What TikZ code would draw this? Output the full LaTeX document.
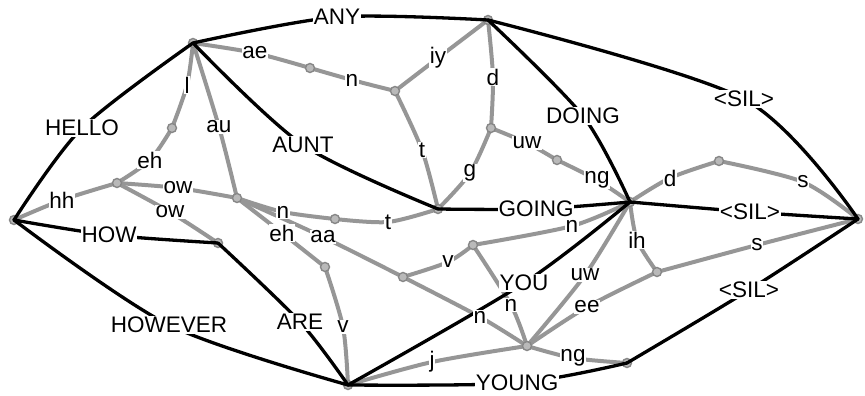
\documentclass[tikz,border=0pt]{standalone}
\usepackage{fontspec}
\setmainfont{Liberation Sans}
\definecolor{phg}{RGB}{150,150,150}
\definecolor{ring}{RGB}{135,135,135}
\definecolor{vfill}{RGB}{185,185,185}
\begin{document}
\begin{tikzpicture}[x=1pt,y=-1pt,
  vtx/.style={circle,draw=ring,fill=vfill,line width=1.4pt,minimum size=9pt,inner sep=0pt},
  ph/.style={draw=phg,line width=4pt,line cap=round},
  wd/.style={draw=black,line width=3.3pt,line cap=round},
  lbl/.style={fill=white,inner sep=0.8pt,text=black,font=\fontsize{22.5}{24}\selectfont}]
\useasboundingbox (0,0) rectangle (865,396);
% vertices
\coordinate (S) at (14,220);
\coordinate (E) at (858,219);
\coordinate (A) at (193,43);
\coordinate (B) at (488,20);
\coordinate (C) at (438,209);
\coordinate (D) at (630,202);
\coordinate (F) at (218,243);
\coordinate (G) at (348,385);
\coordinate (H) at (527,346);
\coordinate (I) at (627,363);
\coordinate (P1) at (117,183);
\coordinate (P2) at (172,128);
\coordinate (P3) at (237,198);
\coordinate (P4) at (335,219);
\coordinate (P5) at (325,267);
\coordinate (P6) at (403,277);
\coordinate (P7) at (473,245);
\coordinate (P8) at (657,272);
\coordinate (P9) at (719,161);
\coordinate (P10) at (310,68);
\coordinate (P11) at (395,91);
\coordinate (P12) at (491,128);
\coordinate (P13) at (557,160);
% label positions
\coordinate (lHELLO) at (82,128);
\coordinate (lANY) at (337,17);
\coordinate (lAUNT) at (303,145);
\coordinate (lDOING) at (583,116);
\coordinate (lSILa) at (744,99);
\coordinate (lGOING) at (536,209);
\coordinate (lSILb) at (750,212);
\coordinate (lHOW) at (109,235);
\coordinate (lHOWEVER) at (169,325);
\coordinate (lARE) at (300,322);
\coordinate (lYOU) at (524,283);
\coordinate (lYOUNG) at (517,383);
\coordinate (lSILc) at (749,290);
\coordinate (qhh) at (62,200);
\coordinate (qeh) at (150,160);
\coordinate (ql) at (187,85);
\coordinate (qau) at (219,127);
\coordinate (qae) at (255,53);
\coordinate (qn) at (352,80);
\coordinate (qiy) at (438,58);
\coordinate (qd) at (493,77);
\coordinate (qt) at (422,150);
\coordinate (qg) at (470,173);
\coordinate (quw) at (527,143);
\coordinate (qng) at (597,180);
\coordinate (qowa) at (178,188);
\coordinate (qowb) at (170,212);
\coordinate (qnb) at (283,212);
\coordinate (qtb) at (388,222);
\coordinate (qehb) at (282,233);
\coordinate (qaa) at (323,237);
\coordinate (qva) at (343,327);
\coordinate (qvb) at (448,262);
\coordinate (qnc) at (572,226);
\coordinate (qnd) at (511,305);
\coordinate (qne) at (480,317);
\coordinate (qj) at (432,362);
\coordinate (quwb) at (585,275);
\coordinate (qee) at (587,307);
\coordinate (qih) at (637,240);
\coordinate (qsa) at (757,245);
\coordinate (qngb) at (573,358);
\coordinate (qdb) at (670,178);
\coordinate (qsb) at (803,182);
% phone edges
\foreach \a/\m/\b in {S/qhh/P1, P1/qeh/P2, P2/ql/A, A/qau/P3, P1/qowa/P3, P1/qowb/F,
  A/qae/P10, P10/qn/P11, P11/qiy/B, P11/qt/C, B/qd/P12, P12/qg/C, P12/quw/P13, P13/qng/D,
  P3/qnb/P4, P4/qtb/C, P3/qehb/P5, P5/qva/G, P3/qaa/P6, P6/qvb/P7, P7/qnc/D, P7/qnd/H,
  P6/qne/H, G/qj/H, H/quwb/D, H/qee/P8, D/qih/P8, P8/qsa/E, H/qngb/I, D/qdb/P9, P9/qsb/E}
  {\path[ph] plot[smooth] coordinates {(\a) (\m) (\b)};}
% vertex circles
\foreach \v in {S,E,A,B,C,D,F,G,H,I,P1,P2,P3,P4,P5,P6,P7,P8,P9,P10,P11,P12,P13}
  {\node[vtx] (n\v) at (\v) {};}
% word edges
\foreach \a/\m/\b in {S/lHELLO/A, A/lANY/B, A/lAUNT/C, B/lDOING/D, B/lSILa/E, C/lGOING/D,
  D/lSILb/E, S/lHOW/F, S/lHOWEVER/G, F/lARE/G, G/lYOU/D, G/lYOUNG/I, I/lSILc/E}
  {\path[wd] plot[smooth] coordinates {(\a) (\m) (\b)};}
% labels
\node[lbl] (tHELLO) at (lHELLO) {HELLO};
\node[lbl] (tANY) at (lANY) {ANY};
\node[lbl] (tAUNT) at (lAUNT) {AUNT};
\node[lbl] (tDOING) at (lDOING) {DOING};
\node[lbl] (tSILa) at (lSILa) {<SIL>};
\node[lbl] (tGOING) at (lGOING) {GOING};
\node[lbl] (tSILb) at (lSILb) {<SIL>};
\node[lbl] (tHOW) at (lHOW) {HOW};
\node[lbl] (tHOWEVER) at (lHOWEVER) {HOWEVER};
\node[lbl] (tARE) at (lARE) {ARE};
\node[lbl] (tYOU) at (lYOU) {YOU};
\node[lbl] (tYOUNG) at (lYOUNG) {YOUNG};
\node[lbl] (tSILc) at (lSILc) {<SIL>};
\foreach \c/\t in {qhh/hh, qeh/eh, ql/l, qau/au, qae/ae, qn/n, qiy/iy, qd/d, qt/t, qg/g,
  quw/uw, qng/ng, qowa/ow, qowb/ow, qnb/n, qtb/t, qehb/eh, qaa/aa, qva/v, qvb/v, qnc/n,
  qnd/n, qne/n, qj/j, quwb/uw, qee/ee, qih/ih, qsa/s, qngb/ng, qdb/d, qsb/s}
  {\node[lbl] (t\c) at (\c) {\t};}
\end{tikzpicture}
\end{document}
